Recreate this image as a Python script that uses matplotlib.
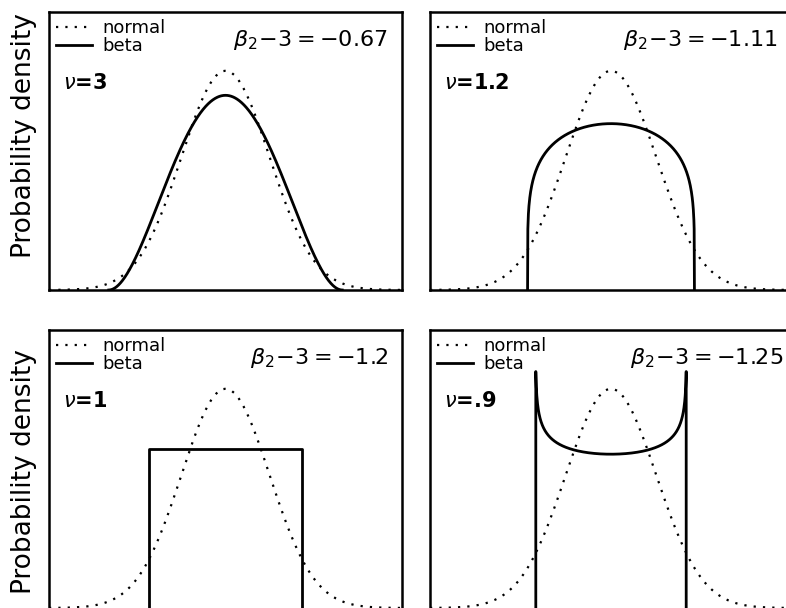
import math

import numpy as np
import matplotlib
matplotlib.use('Agg')
from matplotlib import pyplot as plt

# 形状パラメータと尖度ラベル
nu_values = [3, 1.2, 1, 0.9]
nu_labels = ["3", "1.2", "1", ".9"]
kurt_labels = ["-0.67", "-1.11", "-1.2", "-1.25"]
# 端点での打ち切り (nu<1 では密度が発散するため)
u_edge = [1.0, 1.0, 1.0, 0.9932]

x_lim = (-4, 4)
y_top = 0.506

# 配置 (図の座標, px)
W, H = 786, 608
panel_px = [(49, 12, 353, 278), (430, 12, 362, 278),
            (49, 330, 353, 278), (430, 330, 362, 278)]
label_x = [0.521, 0.533, 0.569, 0.552]


def beta_density(nu, umax, n=600):
    """分散1に標準化した対称ベータ分布の密度"""
    s = math.sqrt(2 * nu + 1)
    norm = 2 ** (2 * nu - 1) * math.gamma(nu) ** 2 / math.gamma(2 * nu)
    u = np.linspace(-umax, umax, n)
    g = (1 - u ** 2) ** (nu - 1) / norm / s
    x = np.concatenate([[-s * umax], s * u, [s * umax]])
    y = np.concatenate([[0], g, [0]])
    return x, y


fig = plt.figure(figsize=(W / 100, H / 100), dpi=100)

xn = np.linspace(x_lim[0], x_lim[1], 400)
yn = np.exp(-xn ** 2 / 2) / math.sqrt(2 * math.pi)

for i, nu in enumerate(nu_values):
    px, py, pw, ph = panel_px[i]
    ax = fig.add_axes([px / W, 1 - (py + ph) / H, pw / W, ph / H])

    ax.plot(xn, yn, color="black", lw=1.6, linestyle=(0, (1, 3.2)), label="normal")
    xb, yb = beta_density(nu, u_edge[i])
    ax.plot(xb, yb, color="black", lw=2.0, label="beta")

    ax.set_xlim(*x_lim)
    ax.set_ylim(0, y_top)
    ax.set_xticks([])
    ax.set_yticks([])
    for sp in ax.spines.values():
        sp.set_linewidth(1.8)
    if i >= 2:
        ax.spines["bottom"].set_visible(False)

    ax.legend(loc="upper left", frameon=False, fontsize=13, handlelength=2.0,
              handletextpad=0.55, labelspacing=0.0, borderaxespad=0.2,
              borderpad=0.2)
    ax.text(0.04, 0.745, r"$\nu$=" + nu_labels[i], transform=ax.transAxes,
            fontsize=15, fontweight="bold", va="center", ha="left")
    ax.text(label_x[i], 0.9, r"$\beta_2\!-\!3=" + kurt_labels[i] + "$",
            transform=ax.transAxes, fontsize=16, va="center", ha="left")

    if i % 2 == 0:
        ax.set_ylabel("Probability density", fontsize=19)
        ax.yaxis.set_label_coords(-0.034, 0.554 if i == 0 else 0.49)

fig.savefig("out.png", dpi=100)
